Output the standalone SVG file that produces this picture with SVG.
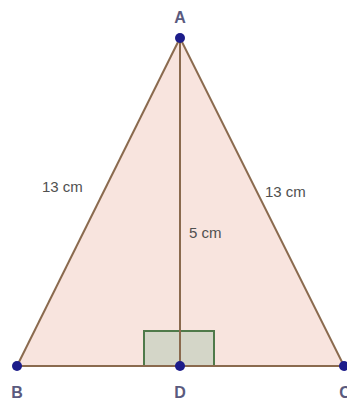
<svg xmlns="http://www.w3.org/2000/svg" width="347" height="405" viewBox="0 0 347 405">
<style>
.edge{stroke:#8a6a4e;stroke-width:2;fill:none}
.pt{fill:#1c1c8a}
.lbl{font-family:"Liberation Sans",Arial,sans-serif;font-size:16px;font-weight:bold;fill:#5a5a7e;text-anchor:middle}
.len{font-family:"Liberation Sans",Arial,sans-serif;font-size:15px;fill:#505050}
</style>
<rect width="347" height="405" fill="#ffffff"/>
<polygon points="180,38 17,366 344,366" fill="#f8e4de"/>
<g id="right-angle"><rect x="144" y="331" width="70" height="35" fill="#d4d6c8" stroke="#4f7a4a" stroke-width="2"/></g>
<g id="connectors">
<line class="edge" x1="180" y1="38" x2="17" y2="366"/>
<line class="edge" x1="180" y1="38" x2="344" y2="366"/>
<line class="edge" x1="17" y1="366" x2="344" y2="366"/>
<line class="edge" x1="180" y1="38" x2="180" y2="366"/>
</g>
<g id="A"><circle class="pt" cx="180" cy="38" r="5"/><text class="lbl" x="180" y="23">A</text></g>
<g id="B"><circle class="pt" cx="17" cy="366" r="5"/><text class="lbl" x="17" y="398">B</text></g>
<g id="D"><circle class="pt" cx="180" cy="366" r="5"/><text class="lbl" x="180" y="398">D</text></g>
<g id="C"><circle class="pt" cx="344" cy="366" r="5"/><text class="lbl" x="345" y="398">C</text></g>
<text class="len" x="42" y="192">13 cm</text>
<text class="len" x="265" y="197">13 cm</text>
<text class="len" x="189" y="238">5 cm</text>
</svg>
